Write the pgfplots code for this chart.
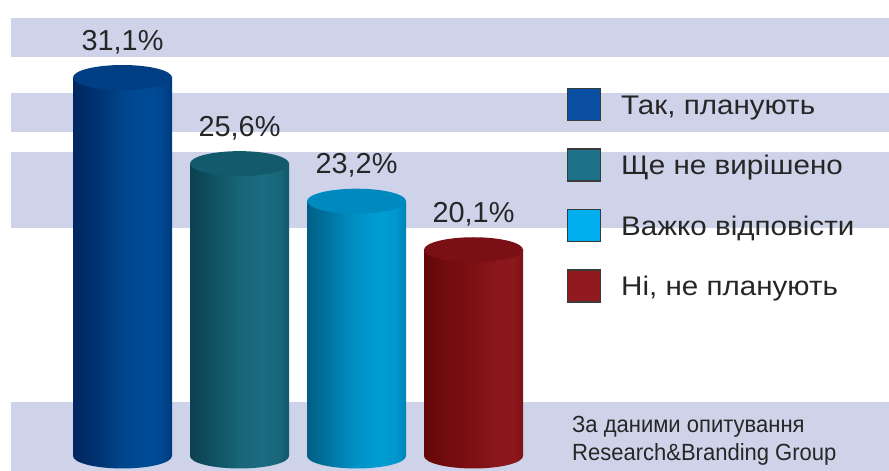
\documentclass[border=0pt]{standalone}
\usepackage{pgfplots}
\pgfplotsset{compat=1.18}
\usepackage{fontspec}
\setmainfont{Liberation Sans}
\newfontfamily\legfont[FakeStretch=1.10]{Liberation Sans}
\newfontfamily\srcfont[FakeStretch=0.94]{Liberation Sans}

\definecolor{stripe}{HTML}{CFD3E9}
\definecolor{txt}{HTML}{262626}
\definecolor{bordergray}{HTML}{3A3A3A}
% body shading colours
\definecolor{b1}{HTML}{00275F}\definecolor{b2}{HTML}{002F6E}\definecolor{b3}{HTML}{00458C}
\definecolor{b4}{HTML}{004B97}\definecolor{b5}{HTML}{00468F}\definecolor{b6}{HTML}{003B7C}
\definecolor{t1}{HTML}{0B4050}\definecolor{t2}{HTML}{0F4F60}\definecolor{t3}{HTML}{186478}
\definecolor{t4}{HTML}{1B6C82}\definecolor{t5}{HTML}{196679}\definecolor{t6}{HTML}{13576A}
\definecolor{c1}{HTML}{005F85}\definecolor{c2}{HTML}{00739F}\definecolor{c3}{HTML}{0092C6}
\definecolor{c4}{HTML}{009DD3}\definecolor{c5}{HTML}{0097CC}\definecolor{c6}{HTML}{0083B5}
\definecolor{r1}{HTML}{640709}\definecolor{r2}{HTML}{700B0E}\definecolor{r3}{HTML}{7E1014}
\definecolor{r4}{HTML}{8A171B}\definecolor{r5}{HTML}{8B181C}\definecolor{r6}{HTML}{7E1216}
% top ellipse colours
\definecolor{topblue}{HTML}{023E83}
\definecolor{topteal}{HTML}{135A6C}
\definecolor{topcyan}{HTML}{0089BF}
\definecolor{topred}{HTML}{7A1015}
% legend colours
\definecolor{legblue}{HTML}{0B4FA3}
\definecolor{legteal}{HTML}{1D7189}
\definecolor{legcyan}{HTML}{00AEEF}
\definecolor{legred}{HTML}{901A1E}

\pgfdeclarehorizontalshading{cylblue}{100bp}{color(0bp)=(b1); color(25bp)=(b1); color(35bp)=(b2); color(50bp)=(b3); color(62bp)=(b4); color(70bp)=(b5); color(75bp)=(b6); color(100bp)=(b6)}
\pgfdeclarehorizontalshading{cylteal}{100bp}{color(0bp)=(t1); color(25bp)=(t1); color(35bp)=(t2); color(50bp)=(t3); color(62bp)=(t4); color(70bp)=(t5); color(75bp)=(t6); color(100bp)=(t6)}
\pgfdeclarehorizontalshading{cylcyan}{100bp}{color(0bp)=(c1); color(25bp)=(c1); color(35bp)=(c2); color(50bp)=(c3); color(62bp)=(c4); color(70bp)=(c5); color(75bp)=(c6); color(100bp)=(c6)}
\pgfdeclarehorizontalshading{cylred}{100bp}{color(0bp)=(r1); color(25bp)=(r1); color(35bp)=(r2); color(50bp)=(r3); color(62bp)=(r4); color(70bp)=(r5); color(75bp)=(r6); color(100bp)=(r6)}

\pgfdeclareplotmark{ctop}{\pgfpathellipse{\pgfpointorigin}{\pgfpoint{49.5bp}{0bp}}{\pgfpoint{0bp}{12.5bp}}\pgfusepathqfill}
\pgfdeclareplotmark{cbotblue}{\pgfpathellipse{\pgfpointorigin}{\pgfpoint{49.5bp}{0bp}}{\pgfpoint{0bp}{12.5bp}}\pgfshadepath{cylblue}{0}\pgfusepath{discard}}
\pgfdeclareplotmark{cbotteal}{\pgfpathellipse{\pgfpointorigin}{\pgfpoint{49.5bp}{0bp}}{\pgfpoint{0bp}{12.5bp}}\pgfshadepath{cylteal}{0}\pgfusepath{discard}}
\pgfdeclareplotmark{cbotcyan}{\pgfpathellipse{\pgfpointorigin}{\pgfpoint{49.5bp}{0bp}}{\pgfpoint{0bp}{12.5bp}}\pgfshadepath{cylcyan}{0}\pgfusepath{discard}}
\pgfdeclareplotmark{cbotred}{\pgfpathellipse{\pgfpointorigin}{\pgfpoint{49.5bp}{0bp}}{\pgfpoint{0bp}{12.5bp}}\pgfshadepath{cylred}{0}\pgfusepath{discard}}

\pgfplotsset{
  cyl/.style n args={3}{ybar, bar width=99bp, bar shift=0pt, draw=none, shade, shading=#1,
    mark=ctop, mark options={fill=#2, draw=none},
    point meta=explicit symbolic,
    nodes near coords,
    every node near coord/.style={anchor=base, yshift=27.5bp, inner sep=0pt, text=txt,
      font=\fontsize{29}{33}\selectfont},
    legend image code/.code={%
      \pgfsetfillcolor{#3}\pgfsetstrokecolor{bordergray}\pgfsetlinewidth{1.2bp}%
      \pgfpathrectangle{\pgfpoint{0bp}{-16bp}}{\pgfpoint{33bp}{32bp}}%
      \pgfusepath{fill,stroke}}},
  cylbot/.style={only marks, mark=#1, forget plot, y filter/.expression={0}},
}

\begin{document}
\begin{tikzpicture}
\begin{axis}[
  scale only axis, width=889bp, height=471bp,
  hide axis, clip=false,
  xmin=-1.047, xmax=6.551,
  ymin=-0.96, ymax=29.12,
  y filter/.expression={y-6.93},
  legend style={at={(0.6378,0.8132)}, anchor=north west, draw=none, fill=none,
    inner sep=0pt, outer sep=0pt, row sep=27.3bp,
    font=\legfont\fontsize{27}{31}\selectfont, text=txt,
    nodes={inner sep=0pt, text height=19.5bp, text depth=0bp},
    /tikz/every odd column/.append style={column sep=20bp}},
  legend cell align=left,
]
\fill[stripe] (rel axis cs:0.01237,0.8790) rectangle (rel axis cs:1,0.9618);
\fill[stripe] (rel axis cs:0.01237,0.7197) rectangle (rel axis cs:1,0.8025);
\fill[stripe] (rel axis cs:0.01237,0.5159) rectangle (rel axis cs:1,0.6773);
\fill[stripe] (rel axis cs:0.01237,0) rectangle (rel axis cs:1,0.1465);

\addplot[cylbot=cbotblue] coordinates {(0,31.1)};
\addplot[cyl={cylblue}{topblue}{legblue}] coordinates {(0,31.1) [31,1\%]};
\addlegendentry{Так, планують}
\addplot[cylbot=cbotteal] coordinates {(1,25.6)};
\addplot[cyl={cylteal}{topteal}{legteal}] coordinates {(1,25.6) [25,6\%]};
\addlegendentry{Ще не вирішено}
\addplot[cylbot=cbotcyan] coordinates {(2,23.2)};
\addplot[cyl={cylcyan}{topcyan}{legcyan}] coordinates {(2,23.2) [23,2\%]};
\addlegendentry{Важко відповісти}
\addplot[cylbot=cbotred] coordinates {(3,20.1)};
\addplot[cyl={cylred}{topred}{legred}] coordinates {(3,20.1) [20,1\%]};
\addlegendentry{Ні, не планують}

\node[anchor=base west, inner sep=0pt, text=txt, font=\srcfont\fontsize{23.5}{28}\selectfont] at (rel axis cs:0.6434,0.0828) {За даними опитування};
\node[anchor=base west, inner sep=0pt, text=txt, font=\srcfont\fontsize{23.5}{28}\selectfont] at (rel axis cs:0.6434,0.02335) {Research\&Branding Group};
\end{axis}
\pgfresetboundingbox
\path (current axis.south west) rectangle (current axis.north east);
\end{tikzpicture}
\end{document}
